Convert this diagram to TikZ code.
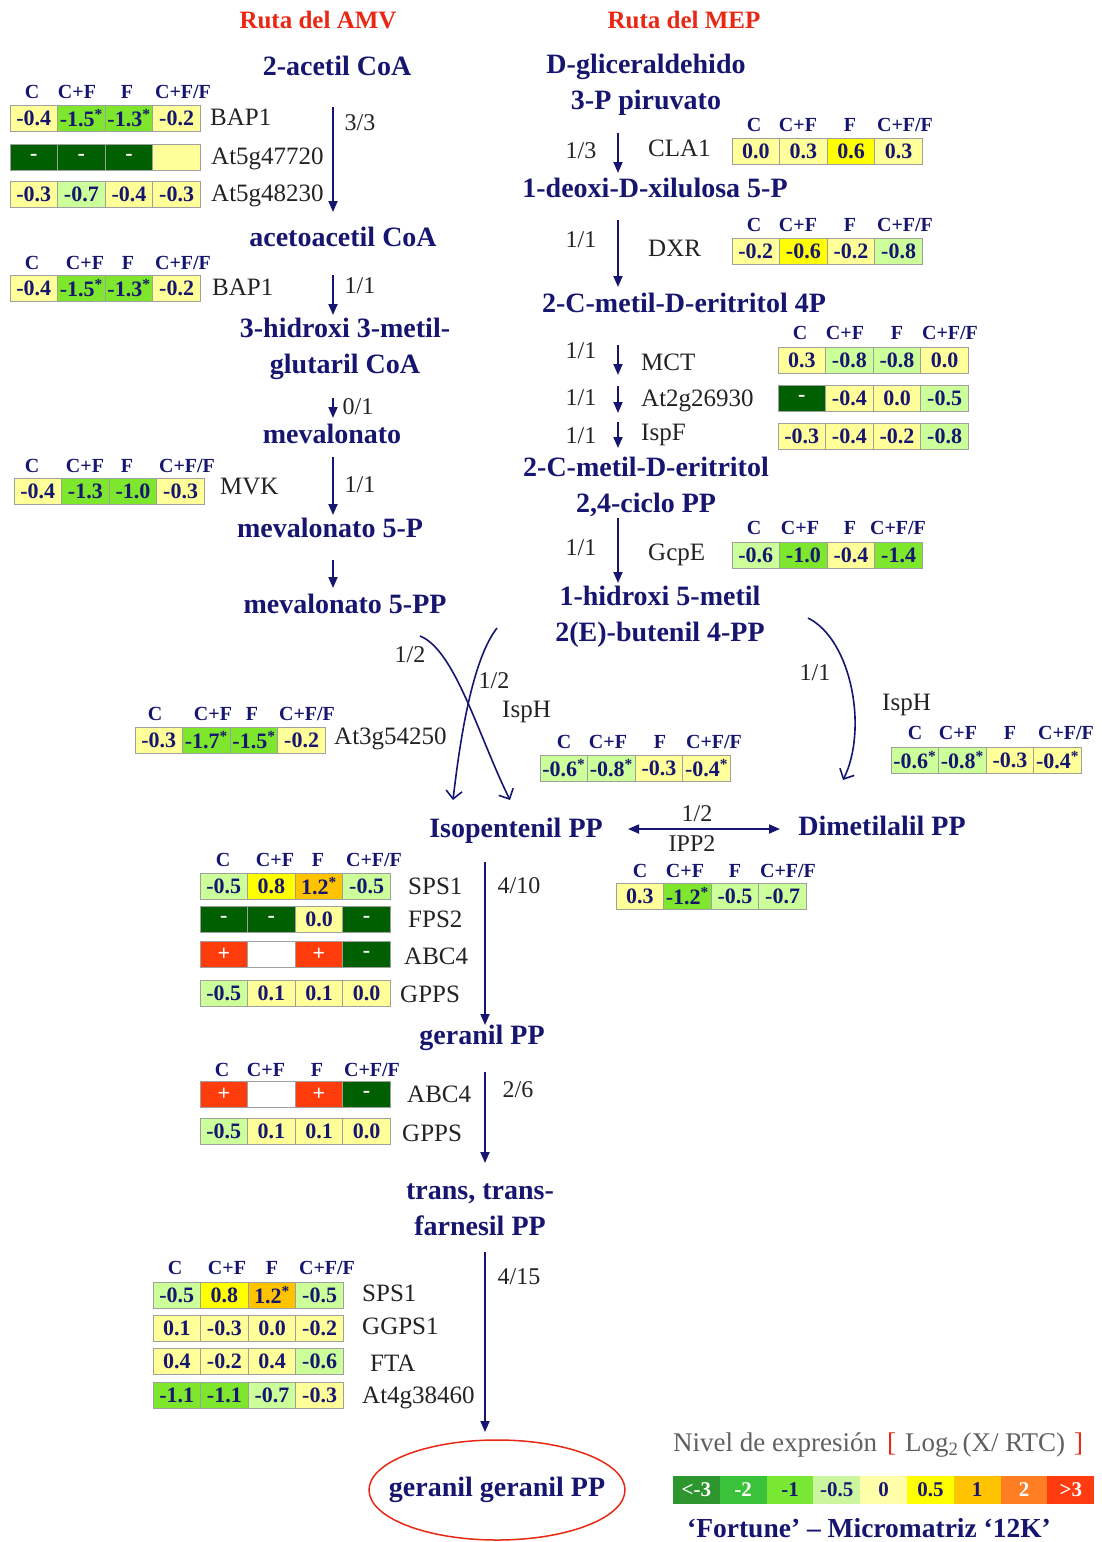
\documentclass[tikz,border=0pt]{standalone}
\usepackage{fontspec}
\setmainfont{Liberation Serif}
\usetikzlibrary{arrows.meta,calc,shapes.geometric}

% palette
\definecolor{navy}{RGB}{22,22,112}
\definecolor{pathred}{RGB}{232,40,20}
\definecolor{genegray}{RGB}{35,35,35}
\definecolor{hmY}{RGB}{255,255,153}
\definecolor{hmYY}{RGB}{255,255,0}
\definecolor{hmLG}{RGB}{204,255,153}
\definecolor{hmG}{RGB}{125,230,45}
\definecolor{hmD}{RGB}{0,95,0}
\definecolor{hmO}{RGB}{255,195,0}
\definecolor{hmR}{RGB}{255,60,12}
\definecolor{lgA}{RGB}{46,150,46}
\definecolor{lgB}{RGB}{58,195,58}
\definecolor{lgC}{RGB}{120,232,50}
\definecolor{lgD}{RGB}{204,245,160}
\definecolor{lgE}{RGB}{255,255,170}
\definecolor{lgF}{RGB}{255,255,0}
\definecolor{lgG}{RGB}{255,195,0}
\definecolor{lgH}{RGB}{255,125,35}
\definecolor{lgI}{RGB}{255,60,15}

\newcommand\wt[1]{\textcolor{white}{#1}}
\newcommand\sig{\textsuperscript{*}}
% one heat-map row: name, left x, centre y, list of colour/value
\newcommand\hmrow[4]{%
  \foreach \hc/\hv [count=\hi] in {#4}{%
    \pgfmathsetmacro\cx{#2+(\hi-0.5)*47.6}%
    \node[cell,fill=\hc] (#1-\hi) at (\cx,#3) {\hv};%
  }}
% column titles of a heat map: name, y, four x positions
\newcommand\hmhead[6]{%
  \node[colhead] (#1-c) at (#3,#2) {C};
  \node[colhead] (#1-cf) at (#4,#2) {C+F};
  \node[colhead] (#1-f) at (#5,#2) {F};
  \node[colhead] (#1-cff) at (#6,#2) {C+F/F};}

\tikzset{
  met/.style={font=\fontsize{28}{36}\selectfont\bfseries, text=navy, align=center, inner sep=0pt},
  ruta/.style={font=\fontsize{25}{28}\selectfont\bfseries, text=pathred, inner sep=0pt},
  gene/.style={font=\fontsize{25}{28}\selectfont, text=genegray, anchor=west, inner sep=0pt},
  frac/.style={font=\fontsize{24}{26}\selectfont, text=genegray, inner sep=0pt},
  colhead/.style={font=\fontsize{20}{22}\selectfont\bfseries, text=navy, inner sep=0pt},
  cell/.style={draw=gray!75, line width=0.9pt, minimum width=47.6pt, minimum height=26pt,
    inner sep=0pt, font=\fontsize{22}{24}\selectfont\bfseries, text=navy},
  legcell/.style={minimum width=46.8pt, minimum height=28pt, inner sep=0pt,
    font=\fontsize{21}{23}\selectfont\bfseries},
  arr/.style={draw=navy, line width=1.8pt, -{Triangle[length=11pt,width=9pt]}},
  darr/.style={draw=navy, line width=1.8pt, {Triangle[length=11pt,width=9pt]}-{Triangle[length=11pt,width=9pt]}},
  carr/.style={draw=navy, line width=1.6pt, -{Straight Barb[length=8pt,width=16pt]}},
}

\begin{document}
\begin{tikzpicture}[x=1pt,y=-1pt]
\fill[white] (0,0) rectangle (1101,1542);
\useasboundingbox (0,0) rectangle (1101,1542);

% ---------- titles ----------
\node[ruta] (tamv) at (318,20) {Ruta del AMV};
\node[ruta] (tmep) at (684,20) {Ruta del MEP};

% ---------- metabolites ----------
\node[met] (acetil) at (337,66) {2-acetil CoA};
\node[met] (acetoacetil) at (343,237) {acetoacetil CoA};
\node[met] (hmg) at (345,349) {3-hidroxi 3-metil-\\glutaril CoA};
\node[met] (mva) at (332,434) {mevalonato};
\node[met] (mvap) at (330,528) {mevalonato 5-P};
\node[met] (mvapp) at (345,604) {mevalonato 5-PP};

\node[met] (gap) at (646,85) {D-gliceraldehido\\3-P piruvato};
\node[met] (dxp) at (655,188) {1-deoxi-D-xilulosa 5-P};
\node[met] (mep) at (684,303) {2-C-metil-D-eritritol 4P};
\node[met] (mecpp) at (646,487) {2-C-metil-D-eritritol\\2,4-ciclo PP};
\node[met] (hmbpp) at (660,617) {1-hidroxi 5-metil\\2(E)-butenil 4-PP};

\node[met] (ipp) at (516,831) {Isopentenil PP};
\node[met] (dmapp) at (882,826) {Dimetilalil PP};
\node[met] (gpp) at (482,1038) {geranil PP};
\node[met] (fpp) at (480,1210) {trans, trans-\\farnesil PP};
\node[met] (ggpp) at (497,1490) {geranil geranil PP};
\draw[pathred, line width=1.5pt] (ggpp) ellipse [x radius=128pt, y radius=50pt];

% ---------- mevalonate route ----------
\draw[arr] ($(acetil)+(-4,41)$) -- ($(acetoacetil)+(-10,-25)$);
\draw[arr] ($(acetoacetil)+(-10,38)$) -- ($(hmg)+(-12,-34)$);
\draw[arr] ($(hmg)+(-12,49)$) -- ($(mva)+(1,-16)$);
\draw[arr] ($(mva)+(1,23)$) -- ($(mvap)+(3,-13)$);
\draw[arr] ($(mvap)+(3,32)$) -- ($(mvapp)+(-12,-16)$);

\node[frac] (f1) at (360,123) {3/3};
\node[frac] (f2) at (360,286) {1/1};
\node[frac] (f3) at (358,407) {0/1};
\node[frac] (f4) at (360,485) {1/1};

\hmhead{h1}{92}{32}{77}{127}{183}
\hmrow{bapa}{10}{118}{hmY/-0.4, hmG/-1.5\sig, hmG/-1.3\sig, hmY/-0.2}
\hmrow{atg47}{10}{157}{hmD/\wt{-}, hmD/\wt{-}, hmD/\wt{-}, hmY/{}}
\hmrow{atg48}{10}{194}{hmY/-0.3, hmLG/-0.7, hmY/-0.4, hmY/-0.3}
\node[gene] (n-bapa) at (210,117) {BAP1};
\node[gene] (n-atg47) at (211,159) {At5g47720};
\node[gene] (n-atg48) at (211,196) {At5g48230};

\hmhead{h2}{263}{32}{85}{128}{183}
\hmrow{bapb}{10}{288}{hmY/-0.4, hmG/-1.5\sig, hmG/-1.3\sig, hmY/-0.2}
\node[gene] (n-bapb) at (212,287) {BAP1};

\hmhead{h3}{466}{32}{85}{127}{187}
\hmrow{mvk}{14}{491}{hmY/-0.4, hmG/-1.3, hmG/-1.0, hmY/-0.3}
\node[gene] (n-mvk) at (220,486) {MVK};

% ---------- methylerythritol route ----------
\coordinate (cdpme) at (618,380);
\coordinate (cdpmep) at (618,417);
\draw[arr] ($(gap)+(-28,48)$) -- ($(dxp)+(-37,-15)$);
\draw[arr] ($(dxp)+(-37,32)$) -- ($(mep)+(-66,-16)$);
\draw[arr] ($(mep)+(-66,42)$) -- ($(cdpme)+(0,-5)$);
\draw[arr] ($(cdpme)+(0,6)$) -- ($(cdpmep)+(0,-4)$);
\draw[arr] ($(cdpmep)+(0,5)$) -- ($(mecpp)+(-28,-39)$);
\draw[arr] ($(mecpp)+(-28,31)$) -- ($(hmbpp)+(-42,-34)$);

\node[frac] (f5) at (581,151) {1/3};
\node[frac] (f6) at (581,240) {1/1};
\node[frac] (f7) at (581,351) {1/1};
\node[frac] (f8) at (581,398) {1/1};
\node[frac] (f9) at (581,436) {1/1};
\node[frac] (f10) at (581,548) {1/1};

\node[gene] (n-cla1) at (648,148) {CLA1};
\hmhead{h4}{125}{754}{798}{850}{905}
\hmrow{cla1}{732}{151}{hmY/0.0, hmY/0.3, hmYY/0.6, hmY/0.3}

\node[gene] (n-dxr) at (648,248) {DXR};
\hmhead{h5}{225}{754}{798}{850}{905}
\hmrow{dxr}{732}{251}{hmY/-0.2, hmYY/-0.6, hmY/-0.2, hmLG/-0.8}

\node[gene] (n-mct) at (641,362) {MCT};
\node[gene] (n-at2g) at (641,401) {At2g26930};
\node[gene] (n-ispf) at (641,435) {IspF};
\hmhead{h6}{333}{800}{845}{897}{950}
\hmrow{mct}{778}{360}{hmY/0.3, hmLG/-0.8, hmLG/-0.8, hmY/0.0}
\hmrow{at2g}{778}{398}{hmD/\wt{-}, hmY/-0.4, hmY/0.0, hmLG/-0.5}
\hmrow{ispf}{778}{436}{hmY/-0.3, hmY/-0.4, hmY/-0.2, hmLG/-0.8}

\node[gene] (n-gcpe) at (648,555) {GcpE};
\hmhead{h7}{528}{754}{800}{850}{898}
\hmrow{gcpe}{732}{555}{hmLG/-0.6, hmG/-1.0, hmY/-0.4, hmG/-1.4}

% ---------- towards the prenyl diphosphates ----------
\draw[carr] ($(mvapp)+(75,32)$) .. controls (455,650) and (478,735) .. ($(ipp)+(-6,-31)$);
\draw[carr] ($(hmbpp)+(-163,11)$) .. controls (472,660) and (460,740) .. ($(ipp)+(-63,-31)$);
\draw[carr] ($(hmbpp)+(148,1)$) .. controls (852,640) and (868,730) .. ($(dmapp)+(-39,-46)$);

\node[frac] (f11) at (410,655) {1/2};
\node[frac] (f12) at (494,681) {1/2};
\node[frac] (f13) at (815,673) {1/1};
\node[gene] (n-isph1) at (502,712) {IspH};
\node[gene] (n-isph2) at (882,705) {IspH};

\hmhead{h8}{714}{155}{213}{252}{307}
\hmrow{at3g}{135}{740}{hmY/-0.3, hmG/-1.7\sig, hmG/-1.5\sig, hmY/-0.2}
\node[gene] (n-at3g) at (334,739) {At3g54250};

\hmhead{h9}{742}{564}{608}{660}{714}
\hmrow{isph1}{540}{768}{hmLG/-0.6\sig, hmLG/-0.8\sig, hmY/-0.3, hmY/-0.4\sig}

\hmhead{h10}{733}{915}{958}{1010}{1066}
\hmrow{isph2}{891}{760}{hmLG/-0.6\sig, hmLG/-0.8\sig, hmY/-0.3, hmY/-0.4\sig}

% isomerase
\draw[darr] ($(ipp)+(112,-2)$) -- ($(dmapp)+(-102,3)$);
\node[frac] (f14) at (697,814) {1/2};
\node[frac] (n-ipp2) at (692,844) {IPP2};
\hmhead{h11}{871}{640}{685}{735}{788}
\hmrow{ipp2}{616}{896}{hmY/0.3, hmG/-1.2\sig, hmLG/-0.5, hmLG/-0.7}

% ---------- prenyl chain elongation ----------
\draw[arr] ($(ipp)+(-31,31)$) -- ($(gpp)+(3,-13)$);
\draw[arr] ($(gpp)+(3,34)$) -- ($(fpp)+(5,-47)$);
\draw[arr] ($(fpp)+(5,42)$) -- ($(ggpp)+(-12,-58)$);
\node[frac] (f15) at (519,886) {4/10};
\node[frac] (f16) at (518,1090) {2/6};
\node[frac] (f17) at (519,1277) {4/15};

\hmhead{h12}{860}{223}{275}{318}{374}
\hmrow{spsa}{200}{886}{hmLG/-0.5, hmYY/0.8, hmO/1.2\sig, hmLG/-0.5}
\hmrow{fps2}{200}{919}{hmD/\wt{-}, hmD/\wt{-}, hmY/0.0, hmD/\wt{-}}
\hmrow{abca}{200}{954}{hmR/\wt{+}, white/{}, hmR/\wt{+}, hmD/\wt{-}}
\hmrow{gppsa}{200}{993}{hmLG/-0.5, hmY/0.1, hmY/0.1, hmY/0.0}
\node[gene] (n-spsa) at (408,886) {SPS1};
\node[gene] (n-fps2) at (408,919) {FPS2};
\node[gene] (n-abca) at (404,956) {ABC4};
\node[gene] (n-gppsa) at (400,994) {GPPS};

\hmhead{h13}{1070}{222}{266}{317}{372}
\hmrow{abcb}{200}{1094}{hmR/\wt{+}, white/{}, hmR/\wt{+}, hmD/\wt{-}}
\hmrow{gppsb}{200}{1131}{hmLG/-0.5, hmY/0.1, hmY/0.1, hmY/0.0}
\node[gene] (n-abcb) at (407,1094) {ABC4};
\node[gene] (n-gppsb) at (402,1133) {GPPS};

\hmhead{h14}{1268}{175}{227}{272}{327}
\hmrow{spsb}{153}{1295}{hmLG/-0.5, hmYY/0.8, hmO/1.2\sig, hmLG/-0.5}
\hmrow{ggps}{153}{1328}{hmY/0.1, hmY/-0.3, hmY/0.0, hmY/-0.2}
\hmrow{fta}{153}{1361}{hmY/0.4, hmY/-0.2, hmY/0.4, hmLG/-0.6}
\hmrow{at4g}{153}{1395}{hmG/-1.1, hmG/-1.1, hmLG/-0.7, hmY/-0.3}
\node[gene] (n-spsb) at (362,1293) {SPS1};
\node[gene] (n-ggps) at (362,1326) {GGPS1};
\node[gene] (n-fta) at (370,1363) {FTA};
\node[gene] (n-at4g) at (362,1398) {At4g38460};

% ---------- colour scale ----------
\node[anchor=west, inner sep=0pt, font=\fontsize{27}{28}\selectfont, text=gray!75!black] (legtitle) at (673,1445)
  {Nivel de expresión\hspace{10pt}{\color{pathred}[}\hspace{9pt}Log\textsubscript{2}\hspace{4pt}(X/ RTC)\hspace{9pt}{\color{pathred}]}};
\foreach \lc/\lt/\lv [count=\li] in {lgA/white/<-3, lgB/white/-2, lgC/navy/-1, lgD/navy/-0.5,
    lgE/navy/0, lgF/navy/0.5, lgG/navy/1, lgH/white/2, lgI/white/>3}{
  \node[legcell, fill=\lc, text=\lt] (leg-\li) at ({673+(\li-0.5)*46.8},1490) {\lv};
}
\node[inner sep=0pt, font=\fontsize{27.5}{29}\selectfont\bfseries, text=navy] (fortune) at (869,1528)
  {‘Fortune’ – Micromatriz ‘12K’};

\end{tikzpicture}
\end{document}
